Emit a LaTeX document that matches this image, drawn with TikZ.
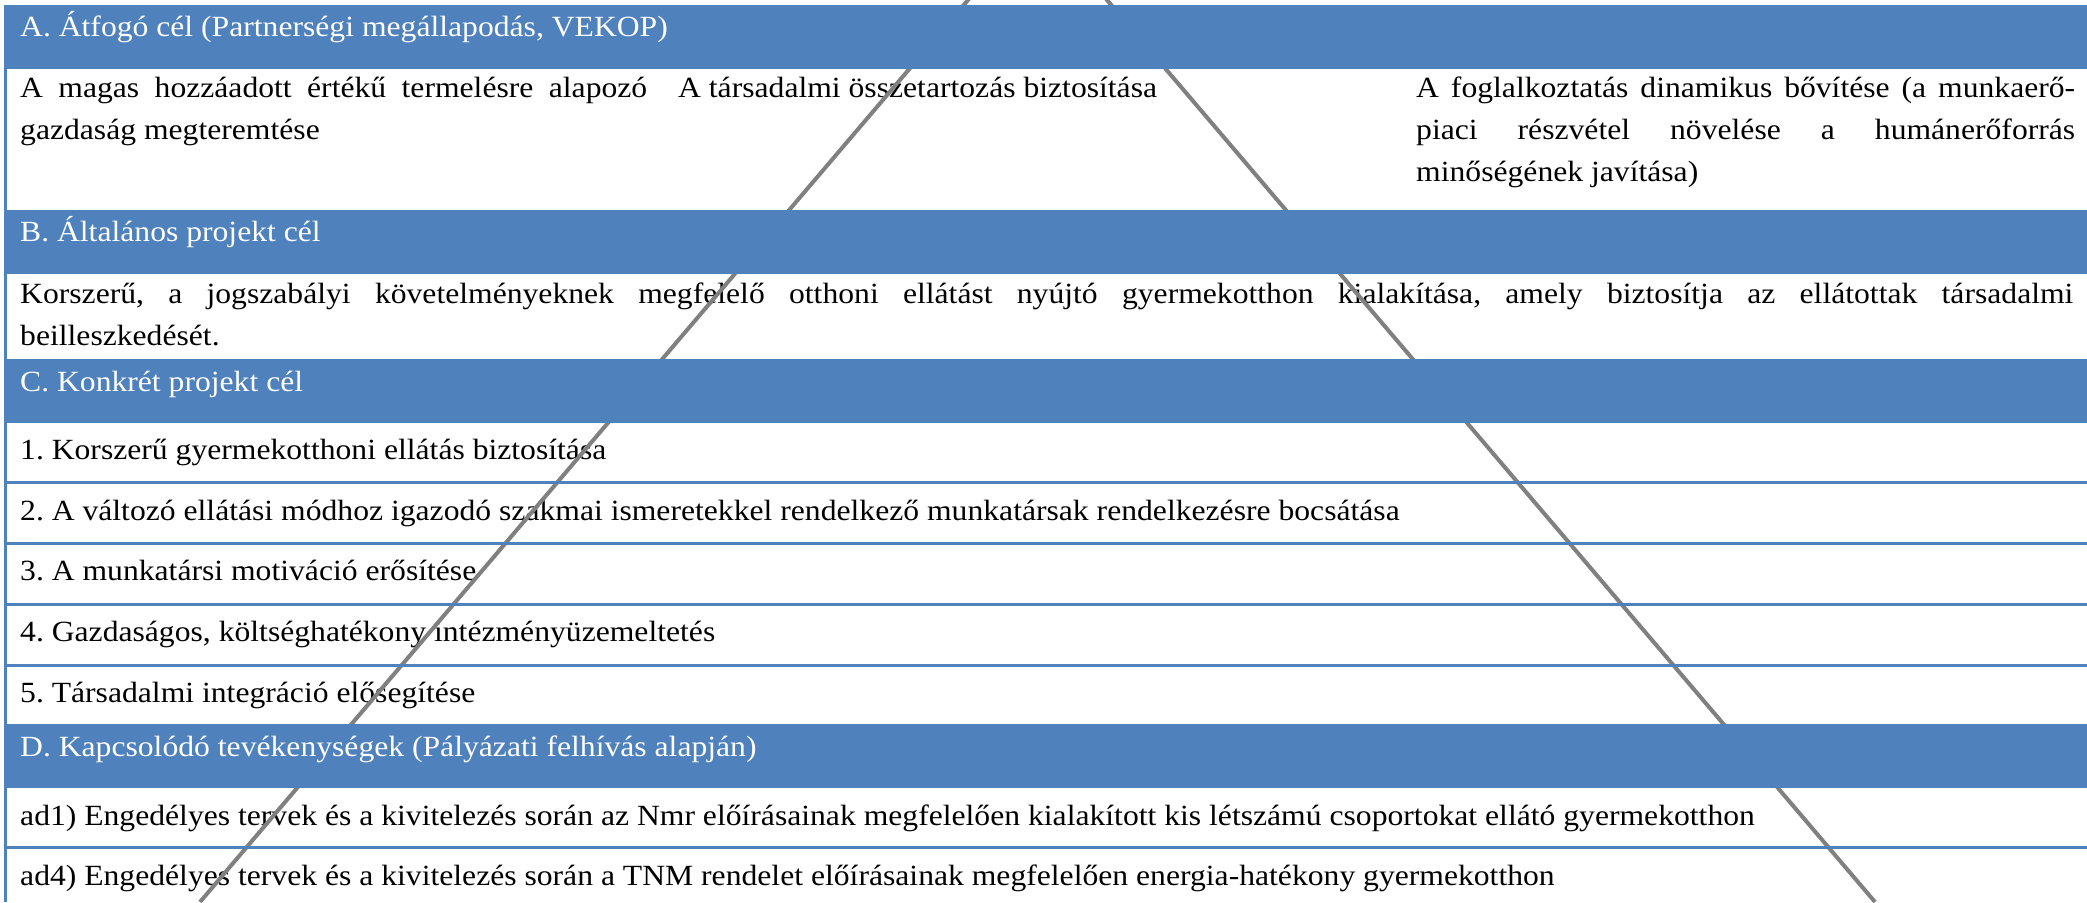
\documentclass[tikz,border=0pt]{standalone}
\usepackage{fontspec}
\setmainfont{Liberation Serif}[FakeStretch=1.08]
\frenchspacing
\definecolor{hdrblue}{HTML}{4F81BD}
\definecolor{lngray}{HTML}{808080}
\tikzset{
  txt/.style={inner sep=0pt, anchor=base west, font=\fontsize{29.3}{35}\selectfont, text=black},
  hdrtxt/.style={txt, text=white},
  hdrbar/.style={fill=hdrblue},
  sepline/.style={draw=hdrblue, line width=3pt},
  diag/.style={draw=lngray, line width=4pt}
}
\begin{document}
\begin{tikzpicture}[x=1pt,y=-1pt]
\useasboundingbox (0,0) rectangle (2087,902);
\clip (0,0) rectangle (2087,902);
\fill[white] (0,0) rectangle (2087,902);

% body texts
\node[txt] (a1l1) at (20,97) {\makebox[627pt][s]{A magas hozzáadott értékű termelésre alapozó}};
\node[txt] (a1l2) at (20,139) {gazdaság megteremtése};
\node[txt] (a2) at (678,97) {A társadalmi összetartozás biztosítása};
\node[txt] (a3l1) at (1416,97) {\makebox[659pt][s]{A foglalkoztatás dinamikus bővítése (a munkaerő-}};
\node[txt] (a3l2) at (1416,139) {\makebox[659pt][s]{piaci részvétel növelése a humánerőforrás}};
\node[txt] (a3l3) at (1416,181) {minőségének javítása)};

\node[txt] (bl1) at (20,303) {\makebox[2053pt][s]{Korszerű, a jogszabályi követelményeknek megfelelő otthoni ellátást nyújtó gyermekotthon kialakítása, amely biztosítja az ellátottak társadalmi}};
\node[txt] (bl2) at (20,345) {beilleszkedését.};

\node[txt] (c1) at (20,459) {1. Korszerű gyermekotthoni ellátás biztosítása};
\node[txt] (c2) at (20,520) {2. A változó ellátási módhoz igazodó szakmai ismeretekkel rendelkező munkatársak rendelkezésre bocsátása};
\node[txt] (c3) at (20,580) {3. A munkatársi motiváció erősítése};
\node[txt] (c4) at (20,641) {4. Gazdaságos, költséghatékony intézményüzemeltetés};
\node[txt] (c5) at (20,702) {5. Társadalmi integráció elősegítése};

\node[txt] (d1) at (20,825) {ad1) Engedélyes tervek és a kivitelezés során az Nmr előírásainak megfelelően kialakított kis létszámú csoportokat ellátó gyermekotthon};
\node[txt] (d4) at (20,885) {ad4) Engedélyes tervek és a kivitelezés során a TNM rendelet előírásainak megfelelően energia-hatékony gyermekotthon};

% diagonal lines
\coordinate (apex) at (1037.5,-81.6);
\coordinate (botL) at (200,902);
\coordinate (botR) at (1875,902);
\draw[diag] (apex) -- (botL);
\draw[diag] (apex) -- (botR);

% header bars
\fill[hdrbar] (4,5) rectangle (2087,69);
\fill[hdrbar] (4,210) rectangle (2087,274);
\fill[hdrbar] (4,359) rectangle (2087,423);
\fill[hdrbar] (4,724) rectangle (2087,788);

\node[hdrtxt] (hA) at (20,36) {A. Átfogó cél (Partnerségi megállapodás, VEKOP)};
\node[hdrtxt] (hB) at (20,241) {B. Általános projekt cél};
\node[hdrtxt] (hC) at (20,391) {C. Konkrét projekt cél};
\node[hdrtxt] (hD) at (20,756) {D. Kapcsolódó tevékenységek (Pályázati felhívás alapján)};

% row separators and left border
\draw[sepline] (4,482.5) -- (2087,482.5);
\draw[sepline] (4,543.5) -- (2087,543.5);
\draw[sepline] (4,604.5) -- (2087,604.5);
\draw[sepline] (4,665.5) -- (2087,665.5);
\draw[sepline] (4,847.5) -- (2087,847.5);
\draw[sepline] (5.5,5) -- (5.5,902);
\end{tikzpicture}
\end{document}
